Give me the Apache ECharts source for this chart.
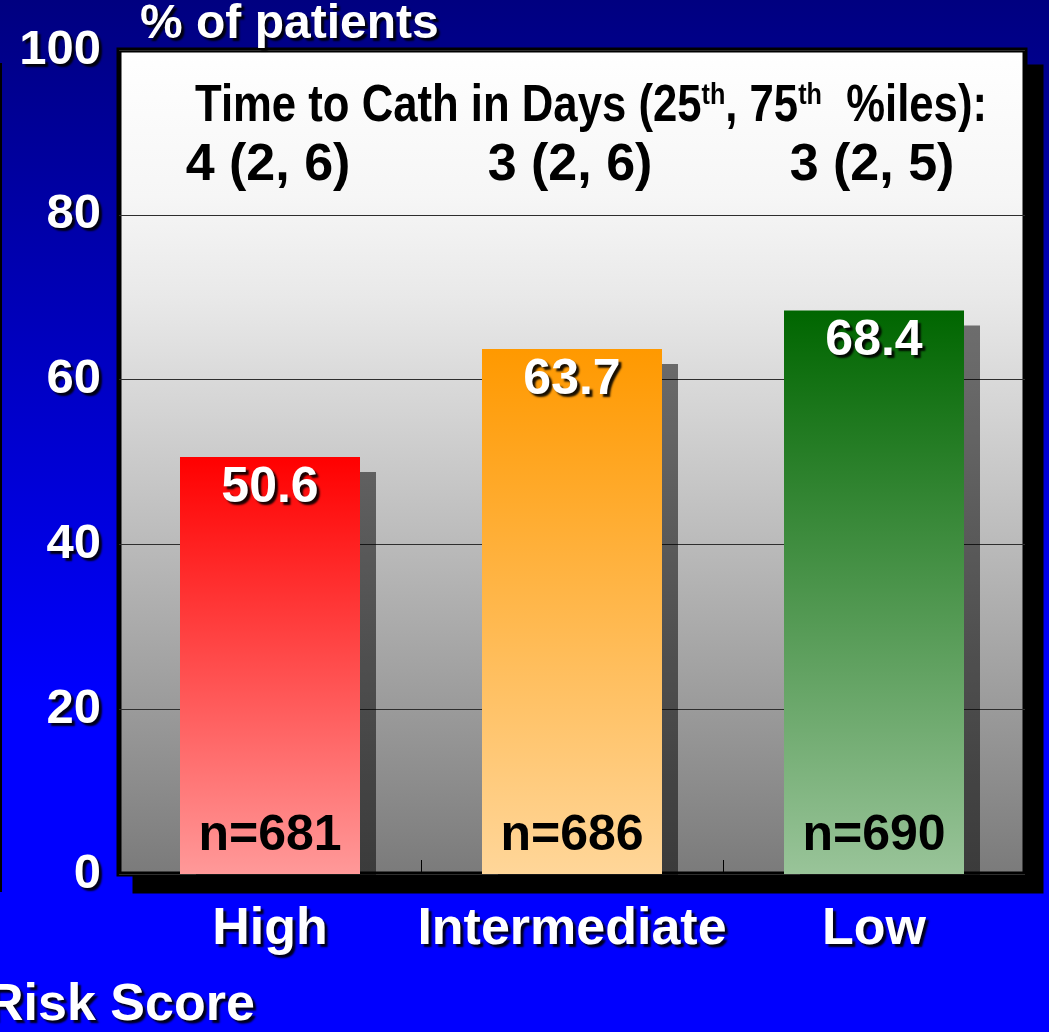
<!DOCTYPE html>
<html>
<head>
<meta charset="utf-8">
<script src="https://cdn.jsdelivr.net/npm/echarts@6/dist/echarts.min.js"></script>
<style>
  html, body { margin: 0; padding: 0; overflow: hidden; }
  #chart { width: 1049px; height: 1032px; }
</style>
</head>
<body>
<div id="chart"></div>
<script>
// Share of patients catheterised, by risk score group
const riskGroups = ['High', 'Intermediate', 'Low'];
const pctPatients = [50.6, 63.7, 68.4];
const groupSizes = [681, 686, 690];
const cathDays = ['4 (2, 6)', '3 (2, 6)', '3 (2, 5)'];

// Bar gradients (top colour, bottom colour) per group
const barTop = ['#ff0000', '#ff9900', '#006600'];
const barBottom = ['#ff9999', '#ffd699', '#99c499'];

const SANS = '"Liberation Sans", Arial, Helvetica, sans-serif';
const NARROW_SCALE = 0.84; // horizontal squeeze giving a narrow bold face
const whiteShadow = {
  color: '#ffffff',
  fontFamily: SANS,
  fontWeight: 'bold',
  textShadowColor: 'rgba(0,0,0,0.9)',
  textShadowBlur: 2,
  textShadowOffsetX: 3,
  textShadowOffsetY: 3
};

const chart = echarts.init(document.getElementById('chart'), null, { renderer: 'canvas' });

function vGrad(top, bottom) {
  return new echarts.graphic.LinearGradient(0, 0, 0, 1, [
    { offset: 0, color: top },
    { offset: 1, color: bottom }
  ]);
}

const GRID = { left: 119, right: 24, top: 50, bottom: 158 };
const W = 1049, H = 1032;

const option = {
  animation: false,
  backgroundColor: {
    type: 'linear', x: 0, y: 0, x2: 0, y2: 1,
    colorStops: [
      { offset: 0, color: '#000080' },
      { offset: 0.68, color: '#0000ff' },
      { offset: 1, color: '#0000ff' }
    ]
  },
  grid: {
    show: true,
    left: GRID.left, right: GRID.right, top: GRID.top, bottom: GRID.bottom,
    outerBoundsMode: 'none',
    borderColor: '#000000',
    borderWidth: 5,
    backgroundColor: {
      type: 'linear', x: 0, y: 0, x2: 0, y2: 1,
      colorStops: [
        { offset: 0, color: '#ffffff' },
        { offset: 0.18, color: '#f6f6f6' },
        { offset: 0.3, color: '#e9e9e9' },
        { offset: 0.47, color: '#cfcfcf' },
        { offset: 1, color: '#7a7a7a' }
      ]
    }
  },
  xAxis: {
    type: 'category',
    data: riskGroups,
    axisLine: { show: false },
    axisTick: { show: true, inside: true, interval: 0, length: 14, lineStyle: { color: '#000', width: 1 } },
    axisLabel: Object.assign({ fontSize: 52, margin: 30, interval: 0 }, whiteShadow)
  },
  yAxis: {
    type: 'value',
    min: 0, max: 100, interval: 20,
    axisLine: { show: false },
    axisTick: { show: false },
    splitLine: { show: true, lineStyle: { color: '#2e2e2e', width: 1 } },
    axisLabel: Object.assign({ fontSize: 49, margin: 18 }, whiteShadow)
  },
  series: [
    {
      name: '% of patients',
      type: 'bar',
      barWidth: 180,
      z: 2,
      data: pctPatients.map((v, i) => ({
        value: v,
        itemStyle: {
          color: vGrad(barTop[i], barBottom[i]),
          shadowColor: 'rgba(0,0,0,0.52)',
          shadowBlur: 0,
          shadowOffsetX: 16,
          shadowOffsetY: 15
        }
      })),
      label: Object.assign({
        show: true,
        position: 'insideTop',
        distance: 6,
        fontSize: 50,
        formatter: '{c}'
      }, whiteShadow)
    },
    {
      name: 'n',
      type: 'bar',
      barWidth: 180,
      barGap: '-100%',
      z: 3,
      silent: true,
      itemStyle: { color: 'rgba(0,0,0,0)' },
      data: pctPatients,
      label: {
        show: true,
        position: 'insideBottom',
        distance: 13,
        fontSize: 50,
        fontWeight: 'bold',
        fontFamily: SANS,
        color: '#000000',
        formatter: p => 'n=' + groupSizes[p.dataIndex]
      }
    }
  ]
};

chart.setOption(option);

// Drop shadow of the plot frame, plus titles and the time-to-cath summary
const graphics = [
  {
    type: 'rect', z: -10,
    shape: {
      x: GRID.left - 2.5 + 16,
      y: GRID.top - 2.5 + 17,
      width: W - GRID.left - GRID.right + 5,
      height: H - GRID.top - GRID.bottom + 5
    },
    style: { fill: '#000' }
  },
  { type: 'rect', shape: { x: 0, y: 63, width: 2, height: 829 }, style: { fill: '#000' }, z: 1 },
  {
    type: 'text', x: 140, y: 25, z: 10,
    style: {
      text: '% of patients', fontSize: 48, fontFamily: SANS, fontWeight: 'bold', fill: '#fff',
      align: 'left', verticalAlign: 'middle',
      textShadowColor: 'rgba(0,0,0,0.9)', textShadowBlur: 2, textShadowOffsetX: 3, textShadowOffsetY: 3
    }
  },
  {
    type: 'text', x: -14, y: 1006, z: 10,
    style: {
      text: 'Risk Score', fontSize: 52, fontFamily: SANS, fontWeight: 'bold', fill: '#fff',
      align: 'left', verticalAlign: 'middle',
      textShadowColor: 'rgba(0,0,0,0.9)', textShadowBlur: 2, textShadowOffsetX: 3, textShadowOffsetY: 3
    }
  },
  {
    type: 'text', x: 591, y: 107, z: 10, scaleX: NARROW_SCALE,
    style: {
      text: '{m|Time to Cath in Days (25}{s|th}{m|, 75}{s|th}{m|  %iles):}',
      align: 'center', verticalAlign: 'middle',
      rich: {
        m: { fontSize: 52, fontFamily: SANS, fontWeight: 'bold', fill: '#000', verticalAlign: 'middle' },
        s: { fontSize: 30, fontFamily: SANS, fontWeight: 'bold', fill: '#000', verticalAlign: 'top' }
      }
    }
  }
];

riskGroups.forEach((g, i) => {
  const px = chart.convertToPixel({ xAxisIndex: 0 }, g);
  graphics.push({
    type: 'text', x: px - 2, y: 166, z: 10,
    style: {
      text: cathDays[i], fontSize: 52, fontFamily: SANS, fontWeight: 'bold', fill: '#000',
      align: 'center', verticalAlign: 'middle'
    }
  });
});

chart.setOption({ graphic: graphics });
</script>
</body>
</html>
